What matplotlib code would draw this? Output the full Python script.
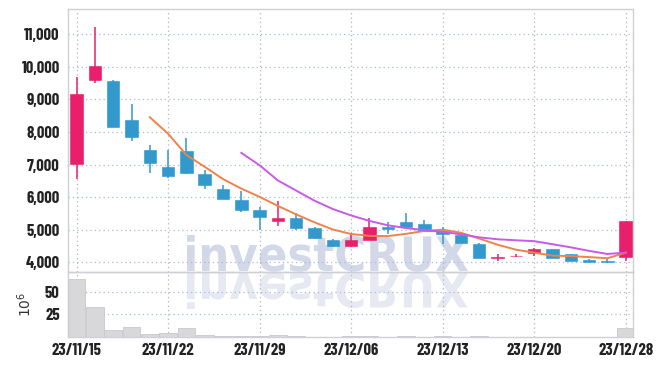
import numpy as np
import pandas as pd
import matplotlib
matplotlib.use("Agg")
import matplotlib.pyplot as plt
from matplotlib.textpath import TextPath
from matplotlib.patches import PathPatch
from matplotlib.font_manager import FontProperties
from matplotlib.transforms import Affine2D, IdentityTransform

# daily OHLC (KRW) and volume (millions of shares), trading days only
dates = ["23/11/15", "23/11/16", "23/11/17", "23/11/20", "23/11/21", "23/11/22",
         "23/11/23", "23/11/24", "23/11/27", "23/11/28", "23/11/29", "23/11/30",
         "23/12/01", "23/12/04", "23/12/05", "23/12/06", "23/12/07", "23/12/08",
         "23/12/11", "23/12/12", "23/12/13", "23/12/14", "23/12/15", "23/12/18",
         "23/12/19", "23/12/20", "23/12/21", "23/12/22", "23/12/26", "23/12/27",
         "23/12/28"]
opens = [7025, 9602, 9581, 8379, 7462, 6911, 7432, 6697, 6240, 5925, 5604, 5253,
         5356, 5050, 4683, 4500, 4693, 5089, 5241, 5171, 4966, 4835, 4560, 4140,
         4180, 4275, 4406, 4245, 4061, 4025, 4153]
highs = [9685, 11214, 9600, 8847, 7606, 7440, 7820, 6830, 6360, 6192, 5682, 5866,
         5509, 5080, 4713, 4887, 5345, 5241, 5498, 5293, 5070, 4936, 4580, 4245,
         4245, 4447, 4406, 4250, 4092, 4122, 5253]
lows = [6545, 9520, 8140, 7728, 6750, 6575, 6719, 6240, 5940, 5548, 4985, 5110,
        5000, 4700, 4458, 4458, 4693, 4865, 5080, 4930, 4560, 4600, 4122, 4050,
        4153, 4192, 4141, 4050, 4000, 3980, 4050]
closes = [9174, 10031, 8165, 7838, 7064, 6645, 6750, 6361, 5956, 5597, 5380, 5356,
          5050, 4744, 4500, 4683, 5070, 5018, 5089, 4957, 4865, 4600, 4122, 4153,
          4192, 4406, 4141, 4050, 4000, 4018, 5253]
volumes = [63.8, 33.2, 7.4, 11.1, 3.0, 4.1, 9.6, 2.2, 0.8, 1.0, 1.4, 2.2, 0.8, 0.5,
           0.4, 0.6, 1.5, 0.5, 0.8, 0.4, 0.8, 0.4, 0.8, 0.3, 0.3, 0.5, 0.3, 0.3,
           0.2, 0.3, 10.3]

UP = "#e8206c"
DOWN = "#3399cc"

df = pd.DataFrame({"open": opens, "high": highs, "low": lows,
                   "close": closes, "vol": volumes}, index=dates)
df["ma5"] = df.close.rolling(5).mean()
df["ma10"] = df.close.rolling(10).mean()
x = np.arange(len(df))

fig = plt.figure(figsize=(6.59, 3.66), dpi=100)
W, H = 659, 366
left, right = 68 / W, 633 / W
ax = fig.add_axes([left, 1 - 272 / H, right - left, 263 / H])
axv = fig.add_axes([left, 1 - 337 / H, right - left, 65 / H], sharex=ax)
for a in (ax, axv):
    a.set_facecolor("none")
    for s in a.spines.values():
        s.set_color("#cfcfd6")
        s.set_linewidth(1.0)
    a.set_axisbelow(True)

tick_font = FontProperties(family=["Barlow Condensed", "Roboto Condensed", "DejaVu Sans"],
                           weight=700, size=12)

# candles
up = df.close >= df.open
colors = np.where(up, UP, DOWN)
ax.vlines(x, df.low, df.high, colors=colors, linewidth=1.1, zorder=3)
body_lo = np.minimum(df.open, df.close)
body_h = np.maximum(np.abs(df.close - df.open), 25)
ax.bar(x, body_h, bottom=body_lo, width=0.68, color=colors,
       edgecolor=[c + "99" for c in colors], linewidth=0.8, zorder=4)
ax.plot(x, df.ma5, color="#ee8449", linewidth=1.4, zorder=5)
ax.plot(x, df.ma10, color="#c95ae8", linewidth=1.4, zorder=5)

ax.set_ylim(3700, 11780)
ax.set_yticks([4000, 5000, 6000, 7000, 8000, 9000, 10000, 11000])
ax.set_yticklabels([f"{v:,}" for v in ax.get_yticks()])
ax.grid(axis="y", linestyle=(0, (1, 2.5)), color="#a9bbd8", linewidth=0.9)
ax.grid(axis="x", linestyle=(0, (1, 2.5)), color="#b4b4c0", linewidth=0.9)
ax.tick_params(axis="both", length=0, pad=6, colors="#222222")
plt.setp(ax.get_xticklabels(), visible=False)
for lab in ax.get_yticklabels():
    lab.set_fontproperties(tick_font)

# volume
axv.bar(x, df.vol, width=0.96, color="#d8d8db", edgecolor="#c8c8ce",
        linewidth=0.6, zorder=3)
axv.set_ylim(0, 72)
axv.set_yticks([25, 50])
axv.grid(axis="y", linestyle=(0, (1, 2.5)), color="#a9bbd8", linewidth=0.9)
axv.grid(axis="x", linestyle=(0, (1, 2.5)), color="#b4b4c0", linewidth=0.9)
axv.tick_params(axis="both", length=0, pad=6, colors="#222222")
axv.set_xlim(-0.47, 30.4)
tick_idx = [0, 5, 10, 15, 20, 25, 30]
axv.set_xticks(tick_idx)
axv.set_xticklabels([dates[i] for i in tick_idx])
axv.tick_params(axis="x", pad=4)
for lab in axv.get_xticklabels() + axv.get_yticklabels():
    lab.set_fontproperties(tick_font)
axv.set_ylabel("$10^6$", fontsize=10, color="#333333", labelpad=8)

# watermark with reflection
wm_font = FontProperties(family="DejaVu Sans", weight="bold")
tp = TextPath((0, 0), "investCRUX", size=40, prop=wm_font)
bb = tp.get_extents()
sx = 281 / bb.width
sy = 36 / bb.y1
base_y = H - 272
t_up = Affine2D().translate(-bb.x0, 0).scale(sx, sy).translate(187, base_y + 1)
t_dn = Affine2D().translate(-bb.x0, 0).scale(sx, -sy).translate(187, base_y - 1)
fig.patches.append(PathPatch(t_up.transform_path(tp), facecolor="#d2d8e7",
                             edgecolor="none", transform=IdentityTransform(),
                             figure=fig, zorder=-1))
fig.patches.append(PathPatch(t_dn.transform_path(tp), facecolor="#e6e9f2",
                             edgecolor="none", transform=IdentityTransform(),
                             figure=fig, zorder=-1))

fig.savefig("out.png", dpi=100)
